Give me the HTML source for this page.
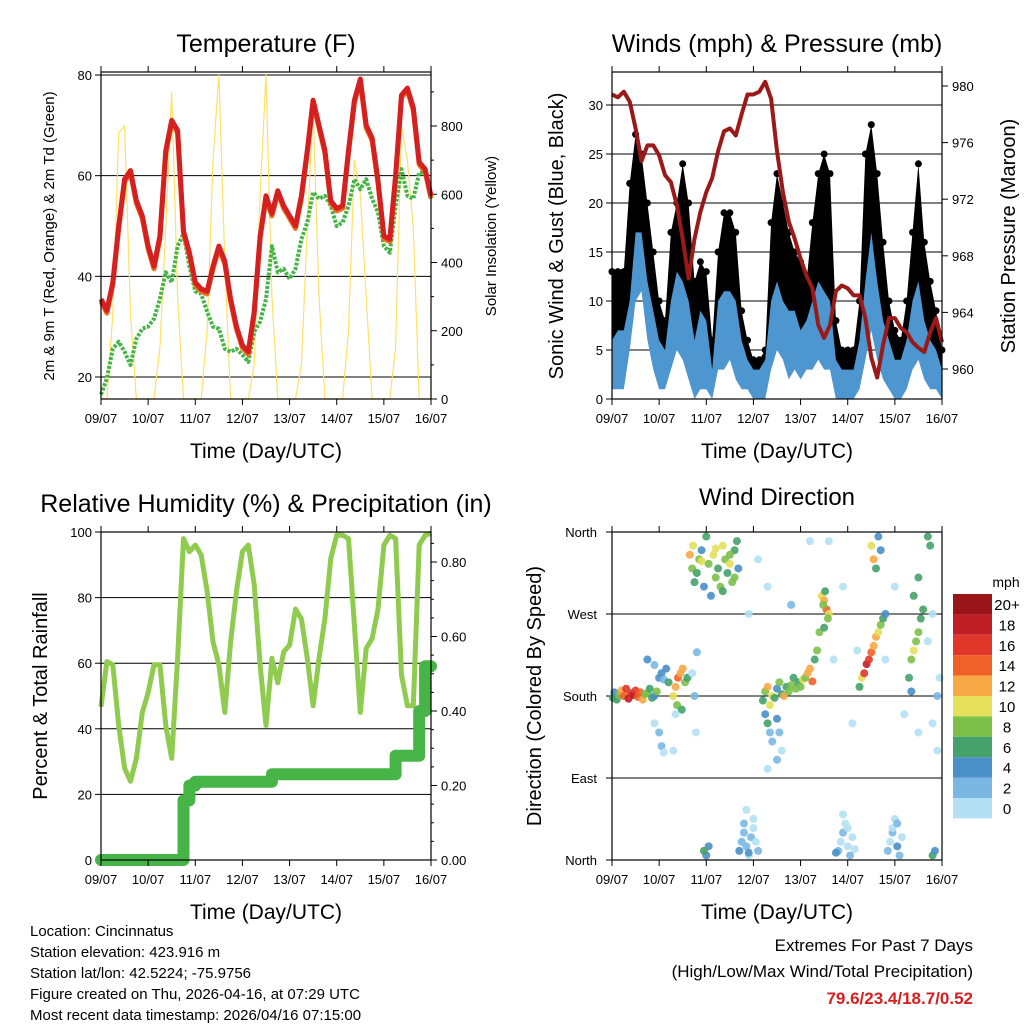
<!DOCTYPE html>
<html><head><meta charset="utf-8"><style>
body{margin:0;background:#fff;}
svg{display:block;font-family:"Liberation Sans",sans-serif;}
</style></head><body>
<svg id="s" width="1024" height="1024" viewBox="0 0 1024 1024"></svg>
<script>
// ---------- DATA (3-hourly samples, index i -> day i/8) ----------
const dayLabels=["09/07","10/07","11/07","12/07","13/07","14/07","15/07","16/07"];
const tempF=[35.5,33.2,38.8,50,59.3,61,55,52,46,42,48,65,71,69,49,44.7,38.8,37.5,37,42,46,43,35.5,30,26.3,25,33,48,56,52.5,57,54,52,50,56,65,75,70,65,55,53.5,54,65,75,79.2,70,67.5,59,48,47.4,60,76,77.4,73.5,62.7,61.3,56];
const dewF=[16.5,19.7,25.6,27,25,22.4,27.6,29.6,30,31.6,35.5,40.8,38.8,46,48.5,42,37,36.5,33,30,29.6,25.6,25,25.6,24.4,23,29,31,35.5,46,40.8,41.5,39.5,41.5,47.4,50.7,56.7,55.4,56,54,50,50.7,54,59.3,57.3,59.3,55.4,52.7,46,44.7,54,61.3,56,55.4,60.6,60.6,55.4];
const solar=[0,0,250,780,800,250,0,0, 0,0,150,500,900,300,0,0, 0,0,200,700,950,400,0,0, 0,0,100,600,950,300,0,0, 0,0,100,500,850,300,0,0, 0,0,200,700,600,300,0,0, 0,0,150,800,700,500,0,0, 0];
const windHi=[6,7,7,10,17,17,12,9,6,5,10,13,12,10,6,9,8,3,10,11,11,10,6,4,3,3,4,10,12,10,9,9,7,8,10,12,11,10,4,3,3,3,6,12,17,12,8,6,4,4,6,10,12,8,6,5,3];
const windLo=[1,1,1,5,10,11,6,3,1,1,3,5,4,2,0,1,1,0,3,3,4,2,1,1,0,0,0,3,5,4,2,3,2,3,3,4,3,3,0,0,0,0,1,4,7,4,2,1,0,0,1,3,4,2,1,1,0];
const gustHi=[13,13,13,22,27,25,20,15,10,8,17,20,24,20,12,14,13,6,15,19,19,17,9,6,4,4,5,18,23,20,17,15,14,12,18,23,25,23,8,5,5,5,10,25,28,23,16,10,7,6,10,17,24,16,12,9,5];
const gustLo=[5,5,5,8,15,14,10,5,3,2,5,8,8,6,3,4,4,1,5,6,7,5,3,2,1,1,1,6,9,7,5,6,4,5,6,8,8,7,2,1,1,1,3,10,14,9,5,3,2,2,3,6,9,5,3,2,1];
const pressure=[979.4,979.2,979.6,978.9,977,974.7,975.8,975.8,975.1,973.7,973.2,971.6,969.2,966.4,969.2,971.1,972.5,973.5,975.4,976.8,977,976.5,978,979.4,979.4,979.6,980.3,979.1,975.4,972.5,970.4,969.2,967.8,966.6,965.7,963.1,962.2,963.1,965.5,965.9,965.7,965.2,965.2,963.6,960.8,959.4,961.7,963.6,963.6,962.9,962.6,961.9,961.5,961.2,962.6,963.6,961.9];
const rh=[46.7,60.5,59.5,41,28,24,31,45,51,59.5,59.5,41,31,61.5,98,94,96,93,82,66.5,59.5,45,66.5,82,94,96,84,59.5,41,61.5,54,63.5,65.5,76.5,73.5,61.5,47,61.5,73.5,92,99,99,98,71.6,45,64.5,67.5,76.5,96,99,98,56.4,47,47,96,99,99.6];
const precip=[0,0,0,0,0,0,0,0,0,0,0,0,0,0,0.16,0.20,0.21,0.21,0.21,0.21,0.21,0.21,0.21,0.21,0.21,0.21,0.21,0.21,0.21,0.23,0.23,0.23,0.23,0.23,0.23,0.23,0.23,0.23,0.23,0.23,0.23,0.23,0.23,0.23,0.23,0.23,0.23,0.23,0.23,0.23,0.28,0.28,0.28,0.28,0.40,0.52,0.52];
const wdDay=[0.02,0.05,0.1,0.15,0.2,0.25,0.3,0.35,0.4,0.45,0.5,0.55,0.6,0.65,0.7,0.75,0.8,0.85,0.9,0.95,
1.0,1.05,1.1,1.15,0.75,0.9,1.2,
1.3,1.35,1.4,1.45,1.5,1.55,1.6,1.38,1.48,
0.9,1.0,1.05,1.1,1.7,1.75,1.78,1.3,1.8,1.35,
1.65,1.7,1.72,1.8,1.85,1.9,1.95,2.0,2.05,2.1,2.15,2.2,2.25,2.3,2.35,2.4,2.45,2.5,2.55,2.6,2.65,2.68,1.75,1.9,2.2,2.35,2.5,2.6,
2.0,2.05,1.95,
2.7,2.75,2.8,2.85,2.9,2.95,3.0,3.05,3.1,2.8,2.9,3.0,2.85,
3.2,3.25,3.3,3.35,3.4,3.45,3.5,3.55,3.6,3.65,3.7,3.75,3.8,3.85,3.9,3.95,4.0,4.05,4.1,4.15,4.2,4.25,4.3,4.35,4.4,
3.25,3.3,3.35,3.4,3.5,3.55,3.5,3.6,3.3,
4.45,4.5,4.55,4.6,4.48,4.52,4.58,4.5,
4.8,4.85,4.9,4.95,5.0,5.05,5.1,4.9,5.0,5.15,4.75,
5.25,5.3,5.35,5.4,5.45,5.5,5.55,5.6,5.65,5.7,5.75,5.8,
5.5,5.55,5.6,5.65,5.7,
5.85,5.9,5.95,6.0,6.05,6.1,6.15,5.95,6.05,
6.3,6.35,6.4,6.45,6.5,6.55,6.6,6.4,6.5,6.35,
6.7,6.75,6.8,6.85,6.9,6.95,6.8,6.9,
3.1,3.3,4.2,4.6,4.7,5.2,5.8,6.0,6.2,6.7,6.8,4.9,5.1,6.5,3.8,2.9];
const wdDir=[178,184,176,181,186,180,188,177,183,181,186,179,184,176,182,183,188,178,180,185,
200,205,198,210,220,214,195,
180,190,200,205,210,195,200,170,165,
150,140,125,118,205,180,140,120,228,160,
335,320,345,315,330,340,300,355,325,290,335,310,320,300,345,330,315,325,305,340,350,320,305,328,342,295,335,310,
5,15,10,
10,20,30,15,5,25,35,20,10,40,8,45,55,
175,185,190,170,180,178,188,195,182,180,190,185,192,200,188,195,190,198,200,205,210,196,220,230,250,
160,150,140,130,155,140,110,120,100,
290,285,275,270,280,295,265,255,
10,20,30,40,15,5,25,50,35,12,8,
190,200,205,215,220,228,235,245,250,258,265,270,
345,330,320,355,340,
10,20,30,45,15,5,25,35,40,
200,220,230,240,250,265,275,290,310,185,
355,345,5,10,180,200,150,120,
330,300,350,350,220,230,220,300,160,240,270,300,150,140,280,270];
const wdSpd=[6,5,7,9,12,15,17,18,16,18,17,15,14,13,9,8,7,6,4,8,
4,5,3,4,4,2,6,
10,12,14,13,12,8,6,9,7,
1,2,3,1,1,2,0,1,2,0,
12,8,10,6,8,4,5,6,9,4,10,8,7,8,10,9,7,10,8,6,6,5,7,10,11,6,9,8,
4,4,6,
4,3,2,2,1,2,1,0,2,3,4,0,1,
6,8,12,10,11,6,4,8,6,12,7,9,8,6,8,6,8,10,8,12,12,14,6,8,8,
4,6,3,2,4,3,2,1,1,
10,12,14,10,8,6,8,6,
2,1,2,0,1,2,0,1,0,1,4,
6,10,16,18,16,14,12,12,10,8,6,4,
10,12,6,4,4,
2,1,2,0,4,2,1,0,2,
6,8,10,8,8,7,6,6,6,4,
6,6,6,4,2,0,0,1,
0,0,1,0,0,1,0,1,0,1,0,1,0,0,2,0];
const spdLabels=["20+","18","16","14","12","10","8","6","4","2","0"];
const spdColors=["#9a1519","#c01f26","#e0372a","#ef6128","#f7a946","#e4e05a","#7cc04a","#45a26a","#4a8fc8","#7ab8e3","#b3e0f5"];

// ---------- helpers ----------
const NS="http://www.w3.org/2000/svg";
const svg=document.getElementById('s');
function mk(tag,attrs,parent){const e=document.createElementNS(NS,tag);for(const k in attrs)e.setAttribute(k,attrs[k]);(parent||svg).appendChild(e);return e;}
function txt(s,x,y,size,anchor,parent,extra){const e=mk('text',Object.assign({x:x,y:y,'font-size':size,'text-anchor':anchor||'middle',fill:'#000'},extra||{}),parent);e.textContent=s;return e;}
function lin(v,v0,v1,p0,p1){return p0+(v-v0)*(p1-p0)/(v1-v0);}
function poly(xs,ys){return xs.map((x,i)=>x.toFixed(1)+','+ys[i].toFixed(1)).join(' ');}

function frame(g,L,T,R,B){
  mk('rect',{x:L,y:T,width:R-L,height:B-T,fill:'none',stroke:'#000','stroke-width':1.2},g);
  for(let d=0;d<8;d++){const x=lin(d,0,7,L,R);
    mk('line',{x1:x,y1:B,x2:x,y2:B+6,stroke:'#000'},g);mk('line',{x1:x,y1:T,x2:x,y2:T-6,stroke:'#000'},g);
    const t=txt(dayLabels[d],x,B+24,13,'middle',g);
    
    
  }
  const xl=txt('Time (Day/UTC)',(L+R)/2,B+59,21,'middle',g);
  
  
}
function gridY(g,L,R,y){mk('line',{x1:L,y1:y,x2:R,y2:y,stroke:'#000','stroke-width':1},g);}

// ================= Panel 1: Temperature =================
(function(){
  const L=101,R=431,T=72,B=399;
  const g=mk('g',{});
  
  
  const xs=i=>lin(i/8,0,7,L,R);
  const yT=v=>lin(v,20,80,377,75);
  const yS=v=>lin(v,0,800,399,126);
  const tt=txt('Temperature (F)',266,52,25,'middle',g);
  [20,40,60,80].forEach(v=>{gridY(g,L,R,yT(v));mk('line',{x1:L,y1:yT(v),x2:L-6,y2:yT(v),stroke:'#000'},g);
    const t=txt(String(v),L-9,yT(v)+5,13,'end',g);});
  [0,200,400,600,800].forEach(v=>{mk('line',{x1:R,y1:yS(v),x2:R+6,y2:yS(v),stroke:'#000'},g);
    const t=txt(String(v),R+10,yS(v)+5,13,'start',g);});
  for(let v=100;v<=900;v+=200){mk('line',{x1:R,y1:yS(v),x2:R+3,y2:yS(v),stroke:'#000'},g);}
  const idx=solar.map((_,i)=>i);
  const sol=mk('polyline',{points:poly(idx.map(xs),solar.map(yS)),fill:'none',stroke:'#ffe066','stroke-width':1.2},g);
  
  const dw=mk('polyline',{points:poly(dewF.map((_,i)=>xs(i)),dewF.map(yT)),fill:'none',stroke:'#46b446','stroke-width':4,'stroke-dasharray':'3 1.5','stroke-linejoin':'round'},g);
  
  const to=mk('polyline',{points:poly(tempF.map((_,i)=>xs(i)),tempF.map(v=>yT(v-0.5))),fill:'none',stroke:'#f07020','stroke-width':5,'stroke-linejoin':'round'},g);
  
  const tr=mk('polyline',{points:poly(tempF.map((_,i)=>xs(i)),tempF.map(yT)),fill:'none',stroke:'#d42020','stroke-width':5,'stroke-linejoin':'round'},g);
  
  frame(g,L,T,R,B);
  const yl=txt('2m & 9m T (Red, Orange) & 2m Td (Green)',0,0,15,'middle',g,{transform:'translate(54,236) rotate(-90)'});
  
  const y2=txt('Solar Insolation (Yellow)',0,0,15,'middle',g,{transform:'translate(496,236) rotate(-90)'});
  
})();

// ================= Panel 2: Winds & Pressure =================
(function(){
  const L=612,R=942,T=72,B=399;
  const g=mk('g',{});
  
  
  const xs=i=>lin(i/8,0,7,L,R);
  const yW=v=>lin(v,0,30,399,105);
  const yP=v=>lin(v,960,980,369,86);
  const tt=txt('Winds (mph) & Pressure (mb)',777,52,25,'middle',g);
  [0,5,10,15,20,25,30].forEach(v=>{gridY(g,L,R,yW(v));mk('line',{x1:L,y1:yW(v),x2:L-6,y2:yW(v),stroke:'#000'},g);
    const t=txt(String(v),L-9,yW(v)+5,13,'end',g);});
  [960,964,968,972,976,980].forEach(v=>{mk('line',{x1:R,y1:yP(v),x2:R+6,y2:yP(v),stroke:'#000'},g);
    const t=txt(String(v),R+10,yP(v)+5,13,'start',g);});
  const ix=gustHi.map((_,i)=>xs(i));
  const gb=mk('polygon',{points:poly(ix.concat(ix.slice().reverse()),gustHi.map(yW).concat(gustLo.map(yW).reverse())),fill:'#000'},g);
  
  gustHi.forEach((v,i)=>{const c=mk('circle',{cx:xs(i),cy:yW(v),r:3.5,fill:'#000'},g);
    
    });
  const wb=mk('polygon',{points:poly(ix.concat(ix.slice().reverse()),windHi.map(yW).concat(windLo.map(yW).reverse())),fill:'#4d96d0'},g);
  
  const pl=mk('polyline',{points:poly(ix,pressure.map(yP)),fill:'none',stroke:'#9a1a1a','stroke-width':4,'stroke-linejoin':'round'},g);
  
  frame(g,L,T,R,B);
  const yl=txt('Sonic Wind & Gust (Blue, Black)',0,0,20,'middle',g,{transform:'translate(563,236) rotate(-90)'});
  
  const y2=txt('Station Pressure (Maroon)',0,0,20,'middle',g,{transform:'translate(1015,236) rotate(-90)'});
  
})();

// ================= Panel 3: RH & Precip =================
(function(){
  const L=101,R=431,T=532,B=860;
  const g=mk('g',{});
  
  
  const xs=i=>lin(i/8,0,7,L,R);
  const yR=v=>lin(v,0,100,860,532);
  const yPr=v=>lin(v,0,0.8,860,562);
  const tt=txt('Relative Humidity (%) & Precipitation (in)',266,512,25,'middle',g);
  [0,20,40,60,80,100].forEach(v=>{gridY(g,L,R,yR(v));mk('line',{x1:L,y1:yR(v),x2:L-6,y2:yR(v),stroke:'#000'},g);
    const t=txt(String(v),L-9,yR(v)+5,13,'end',g);});
  ["0.00","0.20","0.40","0.60","0.80"].forEach(s=>{const v=parseFloat(s);mk('line',{x1:R,y1:yPr(v),x2:R+6,y2:yPr(v),stroke:'#000'},g);
    const t=txt(s,R+10,yPr(v)+5,13,'start',g);});
  for(let v=0.05;v<0.88;v+=0.05){mk('line',{x1:R,y1:yPr(v),x2:R+3,y2:yPr(v),stroke:'#000'},g);}
  const ix=rh.map((_,i)=>xs(i));
  const rl=mk('polyline',{points:poly(ix,rh.map(yR)),fill:'none',stroke:'#8fcb4e','stroke-width':5,'stroke-linejoin':'round'},g);
  
  const px=[],py=[];
  precip.forEach((v,i)=>{if(i>0){px.push(xs(i));py.push(yPr(precip[i-1]));}px.push(xs(i));py.push(yPr(v));});
  const pr=mk('polyline',{points:poly(px,py),fill:'none',stroke:'#46b446','stroke-width':12,'stroke-linejoin':'round','stroke-linecap':'round'},g);
  
  frame(g,L,T,R,B);
  const yl=txt('Percent & Total Rainfall',0,0,20,'middle',g,{transform:'translate(47,696) rotate(-90)'});
  
})();

// ================= Panel 4: Wind Direction =================
(function(){
  const L=612,R=942,T=532,B=860;
  const g=mk('g',{});
  
  
  const xd=d=>lin(d,0,7,L,R);
  const yD=v=>lin(v,0,360,860,532);
  const tt=txt('Wind Direction',777,505,24,'middle',g);
  [["North",0],["East",90],["South",180],["West",270],["North",360]].forEach(([s,v])=>{gridY(g,L,R,yD(v));mk('line',{x1:L,y1:yD(v),x2:L-6,y2:yD(v),stroke:'#000'},g);
    const t=txt(s,L-15,yD(v)+5,13,'end',g);});
  wdDay.forEach((d,i)=>{const sp=wdSpd[i];const k=10-Math.min(10,Math.floor(sp/2));
    const c=mk('circle',{cx:xd(d),cy:yD(wdDir[i]),r:4,fill:spdColors[k],'fill-opacity':0.9},g);
    
    });
  frame(g,L,T,R,B);
  const yl=txt('Direction (Colored By Speed)',0,0,20,'middle',g,{transform:'translate(541,696) rotate(-90)'});
  
  const lg=mk('g',{},g);
  
  
  txt('mph',1006,587,14,'middle',lg);
  spdLabels.forEach((s,i)=>{const y=594+i*20.4;
    const r=mk('rect',{x:953,y:y,width:39,height:20.4,fill:spdColors[i]},lg);
    
    
    const t=txt(s,1007,y+16,15,'middle',lg);
    
    });
})();

// ================= Footer text =================
(function(){
  const g=mk('g',{});
  
  
  ["Location: Cincinnatus","Station elevation: 423.916 m","Station lat/lon: 42.5224; -75.9756","Figure created on Thu, 2026-04-16, at 07:29 UTC","Most recent data timestamp: 2026/04/16 07:15:00"].forEach((s,i)=>{
    const t=txt(s,30,936+i*21,15,'start',g);});
  const e=mk('g',{});
  
  
  txt('Extremes For Past 7 Days',973,951,17,'end',e);
  txt('(High/Low/Max Wind/Total Precipitation)',973,977,17,'end',e);
  const v=txt('79.6/23.4/18.7/0.52',973,1004,17,'end',e,{fill:'#d42020','font-weight':'bold'});
  
  
})();
</script>
</body></html>
